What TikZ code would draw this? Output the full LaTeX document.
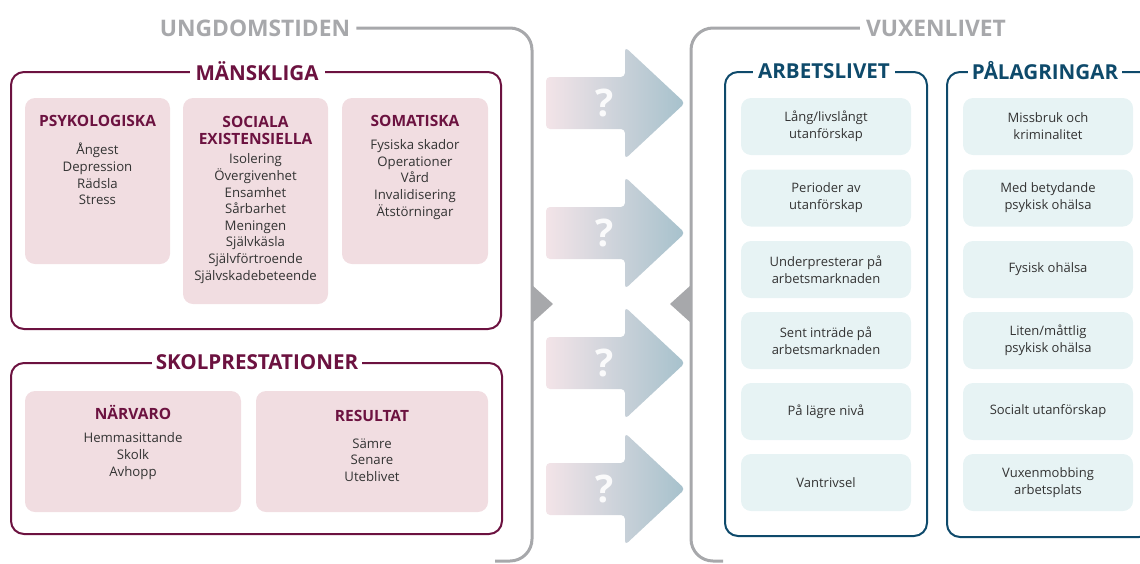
\documentclass[tikz,border=0pt]{standalone}
\usepackage{fontspec}
\setmainfont{Open Sans}
\definecolor{maroon}{HTML}{6C1240}
\definecolor{navy}{HTML}{0E4A6B}
\definecolor{frgray}{HTML}{A7A8AB}
\definecolor{pinkbox}{HTML}{F1DDE1}
\definecolor{tealbox}{HTML}{E7F3F4}
\definecolor{txt}{HTML}{333333}
\definecolor{arrL}{HTML}{F3E4E8}
\definecolor{arrR}{HTML}{A6C1CC}
\begin{document}
\begin{tikzpicture}[x=1pt,y=-1pt,
  body/.style={font=\fontsize{13.2}{16.6}\selectfont, text=txt, align=center, inner sep=0pt},
  sub/.style={font=\bfseries\fontsize{15.5}{17.5}\selectfont, text=maroon, align=center, inner sep=0pt},
  bighead/.style={font=\bfseries\fontsize{20.6}{24}\selectfont, fill=white, inner xsep=6pt, inner ysep=2pt},
  grayhead/.style={font=\bfseries\fontsize{22.8}{26}\selectfont, text=frgray, fill=white, inner xsep=6pt, inner ysep=2pt},
  mframe/.style={draw=maroon, line width=2pt, rounded corners=13},
  bframe/.style={draw=navy, line width=2pt, rounded corners=13},
  gframe/.style={draw=frgray, line width=3pt, rounded corners=22},
  pbox/.style={fill=pinkbox, rounded corners=10},
  tbox/.style={fill=tealbox, rounded corners=10, minimum width=170, minimum height=57, inner sep=0pt,
    font=\fontsize{13}{17}\selectfont, text=txt, align=center},
  qmark/.style={font=\bfseries\fontsize{38}{38}\selectfont, text=white, opacity=0.9}
]
\useasboundingbox (0,0) rectangle (1140,563);
\clip (0,0) rectangle (1140,563);

% ---------- gray outer frames ----------
\node[grayhead] (ung) at (255,28) {UNGDOMSTIDEN};
\coordinate (ungend) at (495,561);
\draw[gframe] (ung.east) -- (532,28) -- (532,561) -- (ungend);
\node[grayhead] (vux) at (936,28) {VUXENLIVET};
\coordinate (vuxend) at (723,561);
\draw[gframe] (vux.west) -- (691,28) -- (691,561) -- (vuxend);
\fill[frgray] (532,285) -- (553,304) -- (532,323) -- cycle;
\fill[frgray] (691,285) -- (670,304) -- (691,323) -- cycle;

% ---------- arrows ----------
\foreach \c [count=\i] in {103,233,363,489}{
  \shade[left color=arrL, right color=arrR, rounded corners=4]
    (546,\c-26) -- (625,\c-26) -- (625,\c-56) -- (685,\c) -- (625,\c+56) -- (625,\c+26) -- (546,\c+26) -- cycle;
  \node[qmark] (q\i) at (605,\c) {?};
}

% ---------- MÄNSKLIGA ----------
\draw[mframe] (11,72) rectangle (501,329);
\node[bighead, text=maroon] (mans) at (257,71) {MÄNSKLIGA};
\fill[pbox] (25,98) rectangle (170,264);
\fill[pbox] (183,98) rectangle (328,304);
\fill[pbox] (342,98) rectangle (488,264);
\node[sub] (psy) at (97.5,121) {PSYKOLOGISKA};
\node[body] (psyl) at (97.5,174) {Ångest\\Depression\\Rädsla\\Stress};
\node[sub] (soc) at (255.5,130.5) {SOCIALA\\EXISTENSIELLA};
\node[body] (socl) at (255.5,218.5) {Isolering\\Övergivenhet\\Ensamhet\\Sårbarhet\\Meningen\\Självkäsla\\Självförtroende\\Självskadebeteende};
\node[sub] (som) at (415,121) {SOMATISKA};
\node[body] (soml) at (415,179.5) {Fysiska skador\\Operationer\\Vård\\Invalidisering\\Ätstörningar};

% ---------- SKOLPRESTATIONER ----------
\draw[mframe] (11,363) rectangle (502,534);
\node[bighead, text=maroon, inner xsep=4pt] (skol) at (257,362) {SKOLPRESTATIONER};
\fill[pbox] (25,391) rectangle (241,512);
\fill[pbox] (256,391) rectangle (488,512);
\node[sub] (narv) at (133,412) {NÄRVARO};
\node[body] (narvl) at (133,456) {Hemmasittande\\Skolk\\Avhopp};
\node[sub] (res) at (372,416) {RESULTAT};
\node[body] (resl) at (372,460) {Sämre\\Senare\\Uteblivet};

% ---------- ARBETSLIVET ----------
\draw[bframe] (725,72) rectangle (927,536);
\node[bighead, text=navy, inner xsep=5pt] (arb) at (824,71) {ARBETSLIVET};
\node[tbox] (a1) at (826,126.5) {Lång/livslångt\\utanförskap};
\node[tbox] (a2) at (826,198) {Perioder av\\utanförskap};
\node[tbox] (a3) at (826,269.5) {Underpresterar på\\arbetsmarknaden};
\node[tbox] (a4) at (826,340.5) {Sent inträde på\\arbetsmarknaden};
\node[tbox] (a5) at (826,411.5) {På lägre nivå};
\node[tbox] (a6) at (826,482.5) {Vantrivsel};

% ---------- PÅLAGRINGAR ----------
\draw[bframe] (947,72) rectangle (1152,537);
\node[bighead, text=navy, inner xsep=4pt] (pal) at (1045,71) {PÅLAGRINGAR};
\node[tbox] (p1) at (1048,126.5) {Missbruk och\\kriminalitet};
\node[tbox] (p2) at (1048,198) {Med betydande\\psykisk ohälsa};
\node[tbox] (p3) at (1048,269.5) {Fysisk ohälsa};
\node[tbox] (p4) at (1048,340.5) {Liten/måttlig\\psykisk ohälsa};
\node[tbox] (p5) at (1048,411.5) {Socialt utanförskap};
\node[tbox] (p6) at (1048,482.5) {Vuxenmobbing\\arbetsplats};
\end{tikzpicture}
\end{document}
